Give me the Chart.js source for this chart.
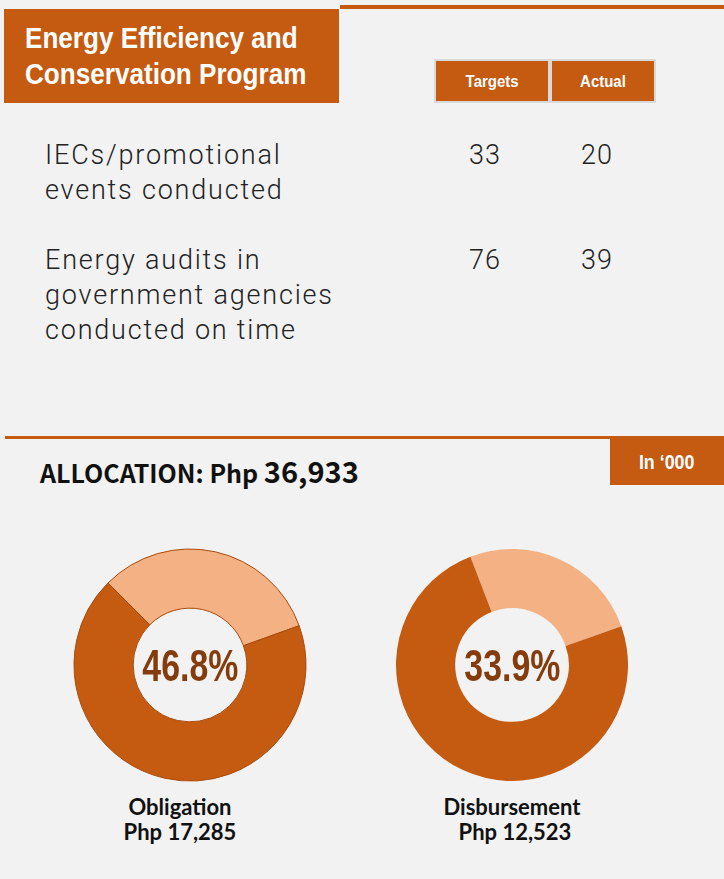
<!DOCTYPE html>
<html>
<head>
<meta charset="utf-8">
<script src="https://cdn.jsdelivr.net/npm/chart.js@4.4.1/dist/chart.umd.min.js"></script>
<style>
  html, body { margin: 0; padding: 0; }
  body { width: 724px; height: 879px; background: #f2f2f2; position: relative; overflow: hidden; }
  .abs { position: absolute; }
  .narrow { font-family: "Liberation Sans", Arial, sans-serif; font-weight: bold; }
  .sx { display: inline-block; white-space: nowrap; }
  .jp { font-family: "Noto Sans CJK JP", "Noto Sans", sans-serif; }
  .light { font-family: Roboto, "Liberation Sans", sans-serif; font-weight: 300; }
  #topline { left: 340px; top: 5px; width: 384px; height: 4px; background: #c55a11; }
  #titlebox { left: 4px; top: 9px; width: 335px; height: 94px; background: #c55a11; }
  .tline { left: 25px; color: #fff; font-size: 29px; line-height: 33px; transform: scaleX(0.9); transform-origin: left center; }
  .hdr { top: 59px; height: 44px; background: #c55a11; color: #fff; font-size: 17px;
         text-align: center; line-height: 42px; border: 2px solid #d9d9d9; box-sizing: border-box; }
  .hdr .sx { transform: scaleX(0.88); }
  .rowlabel { left: 45px; font-size: 27px; line-height: 35px; color: #222; letter-spacing: 1.8px; white-space: nowrap; }
  .num { font-size: 27px; line-height: 35px; color: #222; letter-spacing: 1px; }
  #midline { left: 5px; top: 436px; width: 719px; height: 3px; background: #c55a11; }
  #unitbox { left: 610px; top: 439px; width: 114px; height: 46px; background: #c55a11; color: #fff;
             font-size: 21px; text-align: center; line-height: 46px; }
  #unitbox .sx { transform: scaleX(0.85); }
  #alloc { left: 40px; top: 452px; font-weight: bold; font-size: 25px; line-height: 36px; color: #111; white-space: nowrap; }
  #alloc span { font-size: 29px; }
  .center { color: #843c0c; font-size: 44px; width: 240px; text-align: center; line-height: 50px; }
  .center .sx { transform: scaleX(0.77); }
  .cap { font-family: Lato, "Liberation Sans", sans-serif; font-weight: bold; font-size: 22px; line-height: 25px; color: #111; text-align: center; width: 240px; white-space: nowrap; }
</style>
</head>
<body>
<div id="topline" class="abs"></div>
<div id="titlebox" class="abs"></div>
<div class="abs narrow tline" style="top:22px">Energy Efficiency and</div>
<div class="abs narrow tline" style="top:58px">Conservation Program</div>
<div id="page"></div>
<div id="midline" class="abs"></div>
<div id="unitbox" class="abs narrow"><span class="sx">In ‘000</span></div>
<div id="alloc" class="abs jp"></div>
<script>
// table
const columns = ['Targets', 'Actual'];
const indicators = [
  ['IECs/promotional', 'events conducted'],
  ['Energy audits in', 'government agencies', 'conducted on time']
];
const targets = [33, 76];
const actuals = [20, 39];

// allocation (Php '000)
const allocation = 36933;
const donutNames = ['Obligation', 'Disbursement'];
const donutAmounts = [17285, 12523];
const donutRates = ['46.8%', '33.9%'];
// slice shares as drawn (light, dark) and where the light slice starts (deg)
const lightShare = [32, 25.4];
const darkShare = [68, 74.6];
const startAngle = [-45, -21];

const page = document.getElementById('page');
function el(cls, x, y, html) {
  const d = document.createElement('div');
  d.className = 'abs ' + cls;
  d.style.left = x + 'px';
  d.style.top = y + 'px';
  d.innerHTML = html;
  page.appendChild(d);
  return d;
}

const hdrX = [434, 550], hdrW = [116, 106];
columns.forEach((c, i) => {
  const d = el('hdr narrow', hdrX[i], 59, '<span class="sx">' + c + '</span>');
  d.style.width = hdrW[i] + 'px';
});

const rowY = [138, 243];
indicators.forEach((lines, i) => {
  lines.forEach((t, j) => el('rowlabel light', 45, rowY[i] + j * 35, t));
  el('num light', 469, rowY[i], targets[i]);
  el('num light', 581, rowY[i], actuals[i]);
});

document.getElementById('alloc').innerHTML =
  'ALLOCATION: Php <span>' + allocation.toLocaleString('en-US') + '</span>';

const centersX = [190, 512];
const centerY = 665;
donutNames.forEach((name, i) => {
  const cv = document.createElement('canvas');
  cv.className = 'abs';
  cv.width = 240; cv.height = 240;
  cv.style.left = (centersX[i] - 120) + 'px';
  cv.style.top = (centerY - 120) + 'px';
  page.appendChild(cv);
  new Chart(cv.getContext('2d'), {
    type: 'doughnut',
    data: {
      labels: ['Remaining', name],
      datasets: [{
        data: [lightShare[i], darkShare[i]],
        backgroundColor: ['#f4b183', '#c55a11'],
        borderColor: i === 0 ? '#a84a0c' : '#c55a11',
        borderWidth: i === 0 ? 1 : 0
      }]
    },
    options: {
      responsive: false,
      animation: false,
      rotation: startAngle[i],
      cutout: '49%',
      radius: 116,
      layout: { padding: 0 },
      plugins: { legend: { display: false }, tooltip: { enabled: false } }
    }
  });
  el('center narrow', centersX[i] - 120, centerY - 24, '<span class="sx">' + donutRates[i] + '</span>');
  const cx = centersX[i] - 120 - (i === 0 ? 10 : 0);
  el('cap', cx, 794, name);
  el('cap', cx + (i === 1 ? 3 : 0), 819, 'Php ' + donutAmounts[i].toLocaleString('en-US'));
});
</script>
</body>
</html>
